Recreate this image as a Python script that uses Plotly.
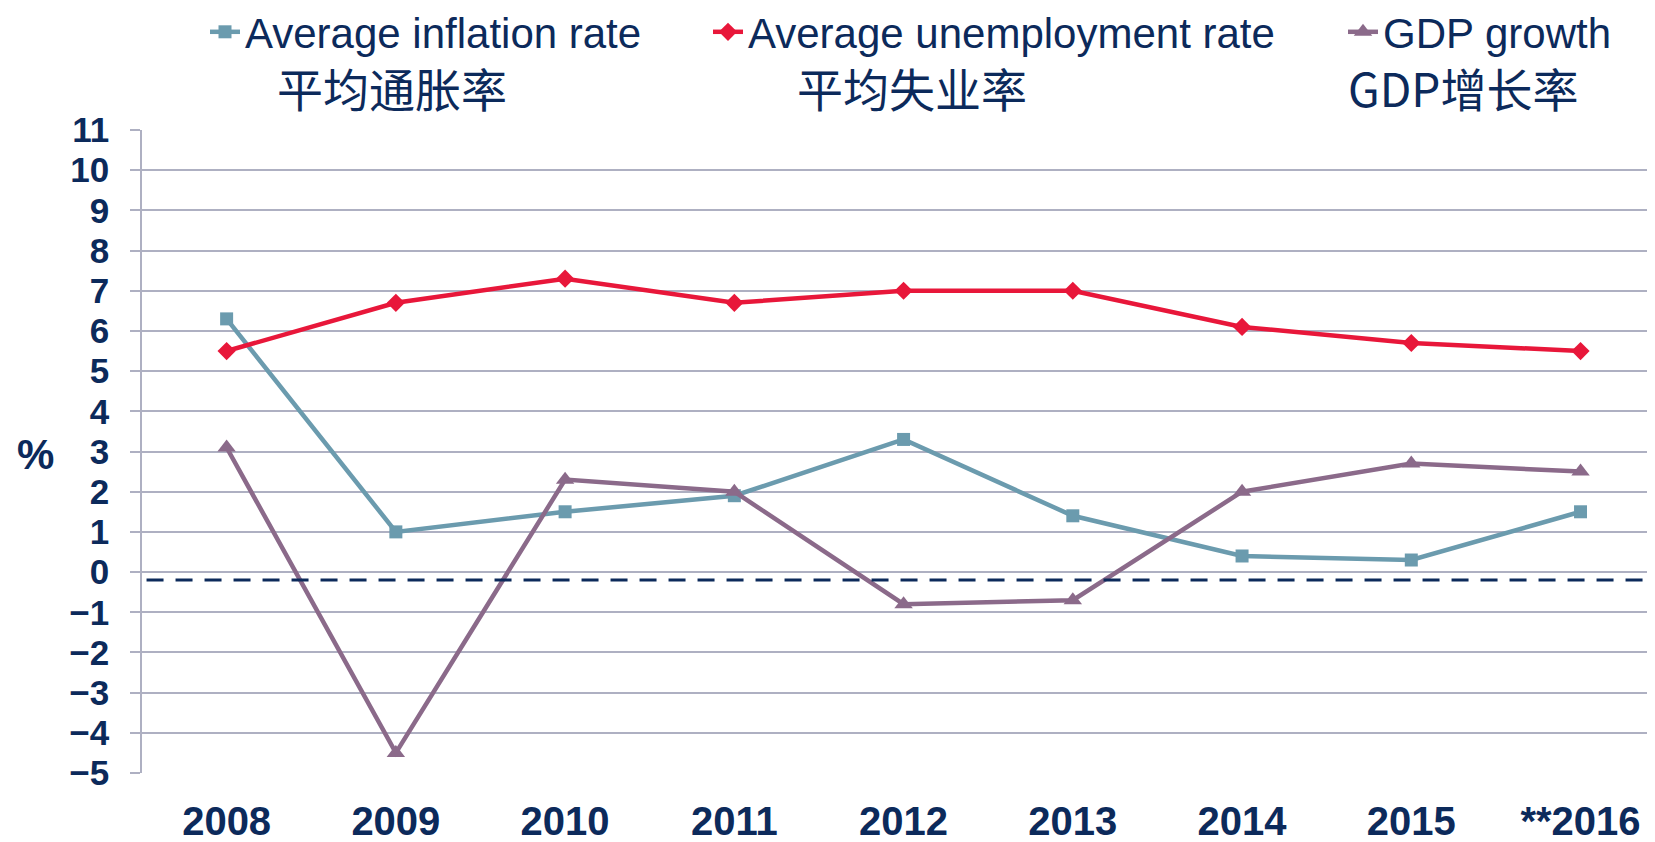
import plotly.graph_objects as go

years = ["2008", "2009", "2010", "2011", "2012", "2013", "2014", "2015", "**2016"]
inflation = [6.3, 1.0, 1.5, 1.9, 3.3, 1.4, 0.4, 0.3, 1.5]
unemployment = [5.5, 6.7, 7.3, 6.7, 7.0, 7.0, 6.1, 5.7, 5.5]
gdp_growth = [3.1, -4.5, 2.3, 2.0, -0.8, -0.7, 2.0, 2.7, 2.5]
y_tick_values = list(range(-5, 12))
reference_level = -0.2

names_en = ["Average inflation rate", "Average unemployment rate", "GDP growth"]
names_cn = ["平均通胀率", "平均失业率", "GDP增长率"]
colors = ["#6b9bae", "#e8173a", "#8b6a8a"]
symbols = ["square", "diamond", "triangle-up"]
marker_sizes = [13, 14, 16]
series = [inflation, unemployment, gdp_growth]
legend_ids = ["legend", "legend2", "legend3"]

NAVY = "#0c2a5b"
GRID = "#aeb0c2"
EN_FONT = "Arial, Liberation Sans, sans-serif"
CN_FONT = "Noto Sans CJK SC, sans-serif"

OFF = 8  # browser body margin
W, H = 1655 - OFF, 842 - OFF
L, R, T, B = 142 - OFF, 0, 130 - OFF, 69

fig = go.Figure()
for name, vals, col, sym, ms, lg in zip(names_en, series, colors, symbols, marker_sizes, legend_ids):
    fig.add_trace(go.Scatter(
        x=years, y=vals, name=name, mode="lines+markers",
        line=dict(color=col, width=4.5),
        marker=dict(symbol=sym, size=ms, color=col),
        legend=lg, showlegend=True,
    ))

fig.add_shape(type="line", xref="paper", yref="y", x0=0.003, x1=1,
              y0=reference_level, y1=reference_level,
              line=dict(color=NAVY, width=3, dash="17px,12px"))

legend_x = [205, 708, 1343]
common_legend = dict(orientation="h", xref="container", yref="container",
                     xanchor="left", yanchor="middle", y=1 - (32 - OFF) / H,
                     font=dict(family=EN_FONT, size=42, color=NAVY),
                     bgcolor="rgba(0,0,0,0)", borderwidth=0, itemwidth=30,
                     visible=True)
legends = {}
for lg, lx in zip(legend_ids, legend_x):
    d = dict(common_legend)
    d["x"] = (lx - OFF) / W
    legends[lg] = d

plot_w = W - L - R
plot_h = H - T - B
cn_centers = [392, 912, 1463]
for txt, cx in zip(names_cn, cn_centers):
    fig.add_annotation(text=txt, xref="paper", yref="paper",
                       x=(cx - OFF - L) / plot_w, y=(H - B - (87 - OFF)) / plot_h,
                       showarrow=False, xanchor="center", yanchor="middle",
                       font=dict(family=CN_FONT, size=46, color=NAVY))

fig.add_annotation(text="<b>%</b>", xref="paper", yref="paper",
                   x=(35 - OFF - L) / plot_w, y=(H - B - (454 - OFF)) / plot_h,
                   showarrow=False, xanchor="center", yanchor="middle",
                   font=dict(family=EN_FONT, size=42, color=NAVY))

fig.update_layout(
    width=W, height=H,
    margin=dict(l=L, r=R, t=T, b=B, autoexpand=False),
    plot_bgcolor="white", paper_bgcolor="white",
    showlegend=True,
    **legends,
)

fig.update_xaxes(
    type="category", range=[-0.5, 8.44],
    showgrid=False, zeroline=False, showline=False, ticks="",
    tickfont=dict(family=EN_FONT, size=40, color=NAVY, weight="bold"),
    ticklabelstandoff=21, automargin=False,
)
fig.update_yaxes(
    range=[-5, 11], tickvals=y_tick_values,
    showgrid=True, gridcolor=GRID, gridwidth=1.5,
    zeroline=False, showline=True, linecolor=GRID, linewidth=1.5,
    ticks="outside", ticklen=10, tickcolor=GRID, tickwidth=1.5,
    tickfont=dict(family=EN_FONT, size=35, color=NAVY, weight="bold"),
    ticklabelstandoff=14, automargin=False,
)

fig.write_html("out.html")
